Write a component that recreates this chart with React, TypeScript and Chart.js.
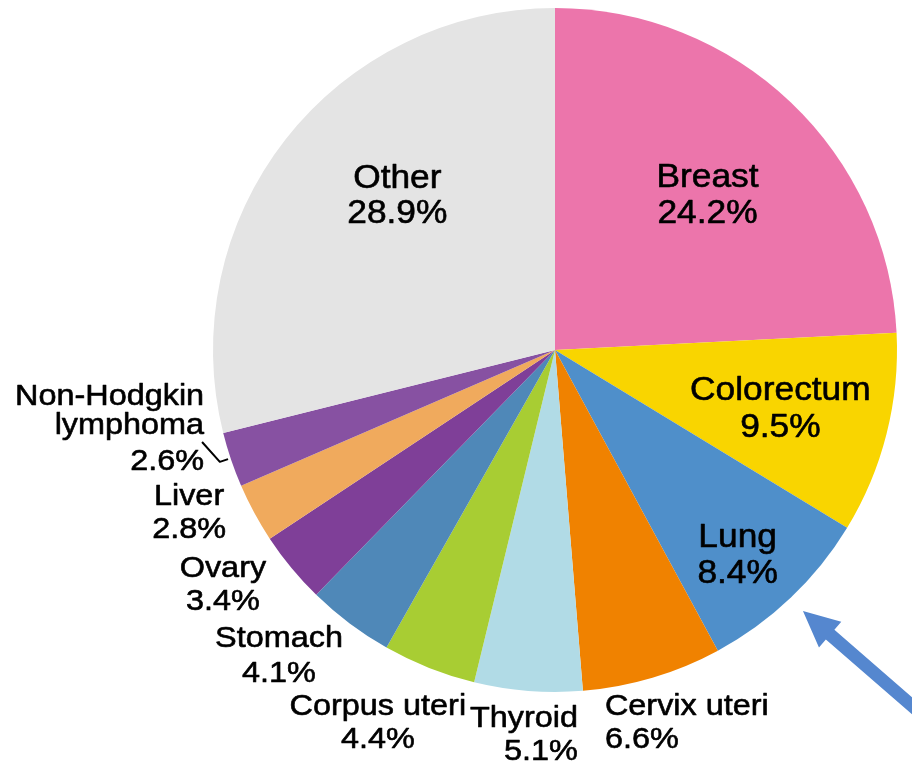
import React, { useEffect, useRef } from "react";
import { Chart, registerables } from "chart.js";

Chart.register(...registerables);

const categories = [
  "Breast",
  "Colorectum",
  "Lung",
  "Cervix uteri",
  "Thyroid",
  "Corpus uteri",
  "Stomach",
  "Ovary",
  "Liver",
  "Non-Hodgkin lymphoma",
  "Other",
];
const shares = [24.2, 9.5, 8.4, 6.6, 5.1, 4.4, 4.1, 3.4, 2.8, 2.6, 28.9];
const colors = [
  "#EC75AB",
  "#F9D500",
  "#4F8FCA",
  "#F08200",
  "#B1DBE6",
  "#A8CD33",
  "#4F88B8",
  "#7F3F98",
  "#F0AA5D",
  "#8751A2",
  "#E4E4E4",
];
// label text lines (name lines, then percentage)
const labelNameLines: string[][] = [
  ["Breast"],
  ["Colorectum"],
  ["Lung"],
  ["Cervix uteri"],
  ["Thyroid"],
  ["Corpus uteri"],
  ["Stomach"],
  ["Ovary"],
  ["Liver"],
  ["Non-Hodgkin", "lymphoma"],
  ["Other"],
];

// layout: first-baseline position as fraction of radius from centre, alignment, inside flag, line gaps
type LabelLayout = { fx: number; fy: number; align: CanvasTextAlign; inside: boolean; gaps: number[] };
const labelLayout: LabelLayout[] = [
  { fx: 0.446, fy: -0.477, align: "center", inside: true, gaps: [36] },
  { fx: 0.659, fy: 0.146, align: "center", inside: true, gaps: [37] },
  { fx: 0.534, fy: 0.576, align: "center", inside: true, gaps: [36] },
  { fx: 0.146, fy: 1.067, align: "left", inside: false, gaps: [33] },
  { fx: 0.067, fy: 1.102, align: "right", inside: false, gaps: [33] },
  { fx: -0.518, fy: 1.067, align: "center", inside: false, gaps: [33] },
  { fx: -0.807, fy: 0.868, align: "center", inside: false, gaps: [35] },
  { fx: -0.971, fy: 0.664, align: "center", inside: false, gaps: [33] },
  { fx: -1.07, fy: 0.453, align: "center", inside: false, gaps: [33] },
  { fx: -1.026, fy: 0.161, align: "right", inside: false, gaps: [29, 36] },
  { fx: -0.461, fy: -0.474, align: "center", inside: true, gaps: [35] },
];
// leader line for Non-Hodgkin lymphoma (fractions of radius)
const nhlLeader = [
  [-1.032, 0.269],
  [-0.98, 0.327],
  [-0.956, 0.319],
];

const labelPlugin = {
  id: "sliceLabels",
  afterDraw(chart: any) {
    const meta = chart.getDatasetMeta(0);
    const arc0 = meta.data[0];
    if (!arc0) return;
    const cx = arc0.x;
    const cy = arc0.y;
    const r = arc0.outerRadius;
    const ctx: CanvasRenderingContext2D = chart.ctx;
    ctx.save();
    ctx.fillStyle = "#000";
    ctx.strokeStyle = "#000";
    ctx.lineJoin = "round";
    ctx.textBaseline = "alphabetic";
    labelLayout.forEach((lay, i) => {
      const lines = [...labelNameLines[i], shares[i].toFixed(1) + "%"];
      const size = lay.inside ? 33 : 30;
      const sx = lay.inside ? 1.07 : 1.08;
      ctx.font = `${size}px 'Liberation Sans', Arial, sans-serif`;
      ctx.textAlign = lay.align;
      let y = cy + lay.fy * r;
      const x = cx + lay.fx * r;
      lines.forEach((ln, j) => {
        ctx.save();
        ctx.translate(x, y);
        ctx.scale(sx, 1);
        ctx.lineWidth = 0.6;
        ctx.fillText(ln, 0, 0);
        ctx.strokeText(ln, 0, 0);
        ctx.restore();
        y += lay.gaps[Math.min(j, lay.gaps.length - 1)];
      });
    });
    // leader line
    ctx.lineWidth = 2;
    ctx.beginPath();
    nhlLeader.forEach(([fx, fy], k) => {
      const px = cx + fx * r;
      const py = cy + fy * r;
      if (k === 0) ctx.moveTo(px, py);
      else ctx.lineTo(px, py);
    });
    ctx.stroke();

    // arrow pointing at Lung slice
    const tipX = cx + 0.725 * r;
    const tipY = cy + 0.763 * r;
    const ang = (41 * Math.PI) / 180;
    const ux = Math.cos(ang);
    const uy = Math.sin(ang);
    const px = -uy;
    const py = ux;
    const headLen = 36;
    const headHalf = 17;
    const shaftHalf = 6.5;
    const tailLen = 200;
    const bx = tipX + ux * headLen;
    const by = tipY + uy * headLen;
    ctx.fillStyle = "#5587CF";
    ctx.beginPath();
    ctx.moveTo(tipX, tipY);
    ctx.lineTo(bx + px * headHalf, by + py * headHalf);
    ctx.lineTo(bx + px * shaftHalf, by + py * shaftHalf);
    ctx.lineTo(tipX + ux * tailLen + px * shaftHalf, tipY + uy * tailLen + py * shaftHalf);
    ctx.lineTo(tipX + ux * tailLen - px * shaftHalf, tipY + uy * tailLen - py * shaftHalf);
    ctx.lineTo(bx - px * shaftHalf, by - py * shaftHalf);
    ctx.lineTo(bx - px * headHalf, by - py * headHalf);
    ctx.closePath();
    ctx.fill();
    ctx.restore();
  },
};

export default function App() {
  const canvasRef = useRef<HTMLCanvasElement | null>(null);
  useEffect(() => {
    if (!canvasRef.current) return;
    const chart = new Chart(canvasRef.current, {
      type: "pie",
      data: {
        labels: categories,
        datasets: [
          {
            data: shares,
            backgroundColor: colors,
            borderWidth: 0,
          },
        ],
      },
      options: {
        responsive: false,
        animation: false,
        devicePixelRatio: 1,
        layout: { padding: { left: 213, top: 8, right: 15, bottom: 74 } },
        plugins: {
          legend: { display: false },
          tooltip: { enabled: false },
        },
      },
      plugins: [labelPlugin],
    });
    return () => chart.destroy();
  }, []);
  return (
    <div style={{ position: "absolute", left: 0, top: 0, width: 912, height: 766, background: "#fff" }}>
      <canvas ref={canvasRef} width={912} height={766} />
    </div>
  );
}
